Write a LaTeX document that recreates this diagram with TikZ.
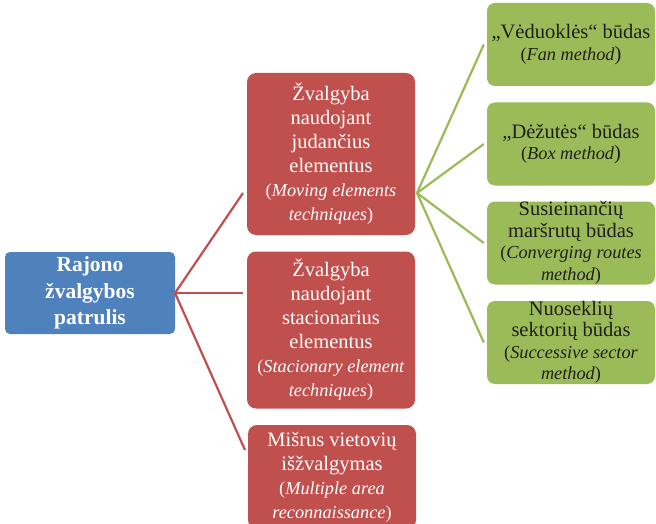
\documentclass[tikz,border=0pt]{standalone}
\usepackage{fontspec}
\setmainfont{Liberation Serif}
\definecolor{sablue}{HTML}{4F81BD}
\definecolor{sared}{HTML}{C0504D}
\definecolor{sagreen}{HTML}{9BBB59}
\definecolor{satext}{HTML}{1F1F1F}
\tikzset{
  rootbox/.style={fill=sablue, rounded corners=5pt, minimum width=170pt, minimum height=82pt,
    text=white, align=center, inner sep=0pt,
    font=\fontsize{21.5}{26.5}\selectfont\bfseries},
  redbox/.style={fill=sared, rounded corners=9pt, minimum width=168pt,
    text=white, align=center, inner sep=0pt,
    font=\fontsize{20.5}{24}\selectfont},
  greenbox/.style={fill=sagreen, rounded corners=8pt, minimum width=168pt, minimum height=83pt,
    text=satext, align=center, inner sep=0pt,
    font=\fontsize{20.5}{21.5}\selectfont},
  redline/.style={draw=sared, line width=2.2pt},
  greenline/.style={draw=sagreen, line width=2.2pt},
}
\newcommand{\itl}[1]{{\fontsize{18.3}{22}\selectfont(\textit{#1}}}
\newcommand{\itr}[1]{{\fontsize{18.3}{22}\selectfont\textit{#1})}}
\begin{document}
\begin{tikzpicture}[x=1pt,y=-1pt]
\useasboundingbox (0,0) rectangle (656,524);
\clip (0,0) rectangle (656,524);
% nodes
\node[rootbox] (root) at (90,293) {Rajono\\žvalgybos\\patrulis};
\node[redbox, minimum height=162pt] (r1) at (331,154)
  {Žvalgyba\\naudojant\\judančius\\elementus\\\itl{Moving elements}\\\itr{techniques}};
\node[redbox, minimum height=157pt] (r2) at (331,330)
  {Žvalgyba\\naudojant\\stacionarius\\elementus\\\itl{Stacionary element}\\\itr{techniques}};
\node[redbox, minimum height=104pt] (r3) at (332,477)
  {Mišrus vietovių\\išžvalgymas\\\itl{Multiple area}\\\itr{reconnaissance}};
\node[greenbox] (g1) at (571,44.5) {\raisebox{4pt}{\shortstack{„Vėduoklės“ būdas\\[2pt]\itl{Fan method})}}};
\node[greenbox] (g2) at (571,144) {„Dėžutės“ būdas\\\itl{Box method})};
\node[greenbox] (g3) at (571,243) {Susieinančių\\maršrutų būdas\\\itl{Converging routes}\\\itr{method}};
\node[greenbox] (g4) at (571,342.5) {Nuoseklių\\sektorių būdas\\\itl{Successive sector}\\\itr{method}};
% connector points
\coordinate (hubr) at (175,293);
\coordinate (e1) at (243,193);
\coordinate (e2) at (243,293);
\coordinate (e3) at (245,450);
\coordinate (hubg) at (417,193);
\draw[redline] (e1) -- (hubr) -- (e3);
\draw[redline] (hubr) -- (e2);
\draw[greenline] (hubg) -- ([xshift=-3pt]g1.west);
\draw[greenline] (hubg) -- ([xshift=-3pt]g2.west);
\draw[greenline] (hubg) -- ([xshift=-3pt]g3.west);
\draw[greenline] (hubg) -- ([xshift=-3pt]g4.west);
\end{tikzpicture}
\end{document}
